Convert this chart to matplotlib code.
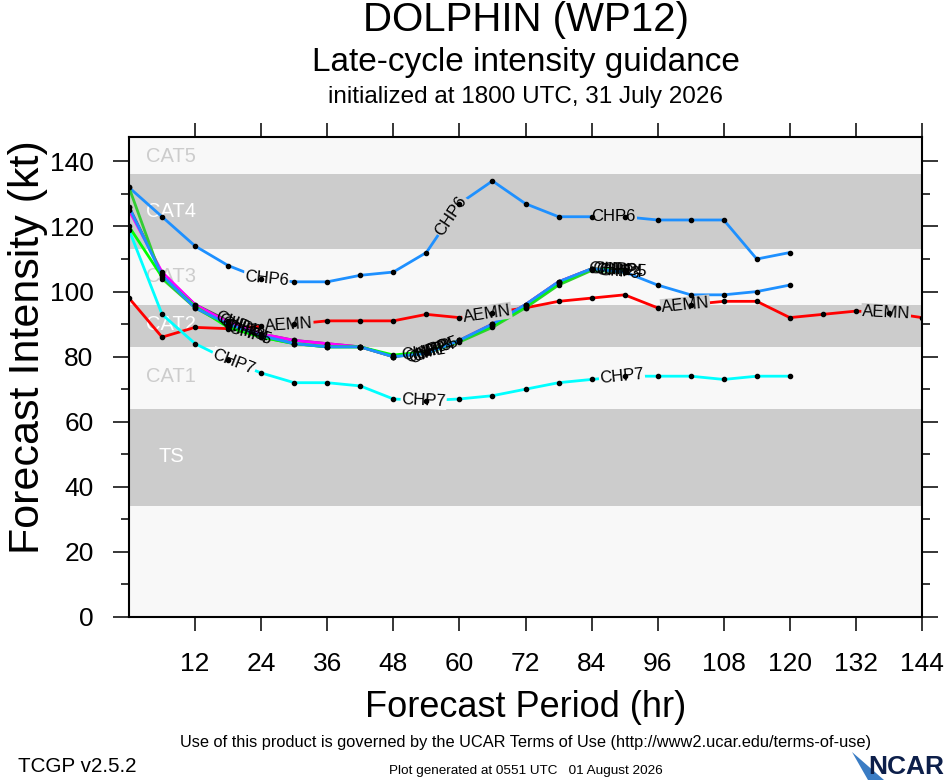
import numpy as np
import matplotlib
matplotlib.use("Agg")
import matplotlib.pyplot as plt
from matplotlib.patches import Polygon

plt.rcParams['font.family'] = ['Liberation Sans', 'DejaVu Sans']

# ---- data (kt), every 6 h from initial time ----
hours = list(range(0, 145, 6))

chp6 = [132, 123, 114, 108, 104, 103, 103, 105, 106, 112, 127, 134, 127,
        123, 123, 123, 122, 122, 122, 110, 112]
chp7 = [119, 93, 84, 79, 75, 72, 72, 71, 67, 66.5, 67, 68, 70, 72, 73, 74,
        74, 74, 73, 74, 74]
aemn = [98, 86, 89, 88.6, 89.3, 90, 91, 91, 91, 93, 92, 93.5, 95, 97, 98,
        99, 95, 96, 97, 97, 92, 93, 94, 93.5, 92]

# tightly clustered members
chp1 = [126, 105.5, 96, 91, 87, 85, 84, 83, 80, 81.5, 85, 90, 96, 103, 107, 106.5]
chp2 = [125, 106, 96, 90.5, 87, 85, 84, 83, 80, 81.5, 85, 90, 96, 103, 107, 106.5]
chp3 = [126, 105, 95, 90, 86.5, 84, 83, 83, 80, 81, 85, 90, 96, 103, 107, 106,
        102, 99, 99, 100, 102]
chp4 = [132, 104, 95, 89.5, 86, 84, 83, 83, 80, 81, 84.5, 89, 95, 102, 106.5, 106]
chp5 = [120, 104.5, 95.5, 89, 86, 84, 83, 83, 80.5, 81.5, 85, 89.5, 95.5, 102.5, 107, 106.5]

# intensity categories (kt)
cat_names = ['TS', 'CAT1', 'CAT2', 'CAT3', 'CAT4', 'CAT5']
cat_low = [34, 64, 83, 96, 113, 136]
cat_high = [64, 83, 96, 113, 136, 148]
cat_text_y = [49.2, 73.8, 89.8, 104.6, 124.6, 141.5]

GRAY = '#cccccc'
PALE = '#f8f8f8'

fig = plt.figure(figsize=(9.46, 7.80), dpi=100)
ax = fig.add_axes([129 / 946, 1 - 617 / 780, (922 - 129) / 946, (617 - 137) / 780])
ax.set_xlim(0, 144)
ax.set_ylim(0, 147.5)
ax.set_facecolor(PALE)

# category bands
for i, (name, lo, hi, ty) in enumerate(zip(cat_names, cat_low, cat_high, cat_text_y)):
    shaded = (i % 2 == 0)
    if shaded:
        ax.axhspan(lo, hi, color=GRAY, lw=0, zorder=0)
    ax.text(7.7, ty, name, color='white' if shaded else GRAY, fontsize=14.5,
            ha='center', va='center', zorder=1)


def band_color(y):
    for i, (lo, hi) in enumerate(zip(cat_low, cat_high)):
        if lo <= y < hi:
            return GRAY if i % 2 == 0 else PALE
    return PALE


def draw_track(vals, color, lw=2.0):
    h = hours[:len(vals)]
    ax.plot(h, vals, color=color, lw=lw, zorder=3, solid_joinstyle='round')
    ax.plot(h, vals, 'o', color='black', ms=3, zorder=6)


def put_label(vals, h, text, box=True):
    hh = hours[:len(vals)]
    y = np.interp(h, hh, vals)
    i = min(max(np.searchsorted(hh, h) - 1, 0), len(hh) - 2)
    p0 = ax.transData.transform((hh[i], vals[i]))
    p1 = ax.transData.transform((hh[i + 1], vals[i + 1]))
    ang = np.degrees(np.arctan2(p1[1] - p0[1], p1[0] - p0[0]))
    kw = {}
    if box:
        kw['bbox'] = dict(boxstyle='square,pad=0.05', fc=band_color(y), ec='none')
    ax.text(h, y, text, fontsize=12, rotation=ang, rotation_mode='anchor',
            ha='center', va='center', zorder=5, **kw)


draw_track(aemn, '#ff0000')
draw_track(chp7, '#00ffff')
draw_track(chp6, '#1e90ff')
draw_track(chp1, '#555555')
draw_track(chp2, '#ff00ff')
draw_track(chp4, '#33cc33')
draw_track(chp5, '#00ff00')
draw_track(chp3, '#1e90ff')

for h in (25, 58.5, 88):
    put_label(chp6, h, 'CHP6')
for h in (19, 53.5, 89.5):
    put_label(chp7, h, 'CHP7')
for h in (29, 65, 101, 137.5):
    put_label(aemn, h, 'AEMN')
members = [(chp1, 'CHP1'), (chp2, 'CHP2'), (chp3, 'CHP3'), (chp4, 'CHP4'), (chp5, 'CHP5')]
for k, (vals, name) in enumerate(members):
    for h in (19.5, 53.5, 87.5):
        put_label(vals, h + 0.6 * k, name, box=False)

# axes / ticks
ax.set_xticks(range(12, 145, 12))
ax.set_yticks(range(0, 141, 20))
ax.set_yticks(range(10, 141, 20), minor=True)
ax.tick_params(axis='x', which='major', direction='out', length=10, width=1.1,
               top=True, labeltop=False, labelsize=19, pad=15)
ax.tick_params(axis='y', which='major', direction='out', length=11.5, width=1.1,
               right=True, labelsize=19, pad=14)
ax.tick_params(axis='y', which='minor', direction='out', length=6, width=1.1, right=True)
for s in ax.spines.values():
    s.set_linewidth(1.5)
    s.set_zorder(7)

ax.set_xlabel('Forecast Period (hr)', fontsize=26, labelpad=10)
ax.set_ylabel('Forecast Intensity (kt)', fontsize=31, va='center')
ax.yaxis.set_label_coords(-0.127, 0.5625)

# titles
fig.text(0.5555, 1 - 20 / 780, 'DOLPHIN (WP12)', fontsize=29, ha='center', va='center')
fig.text(0.5555, 1 - 62 / 780, 'Late-cycle intensity guidance', fontsize=24, ha='center', va='center')
fig.text(0.5555, 1 - 97 / 780, 'initialized at 1800 UTC, 31 July 2026', fontsize=17.5,
         ha='center', va='center')

# footer
fig.text(0.5555, 1 - 742 / 780,
         'Use of this product is governed by the UCAR Terms of Use (http://www2.ucar.edu/terms-of-use)',
         fontsize=11.8, ha='center', va='center')
fig.text(18 / 946, 1 - 766 / 780, 'TCGP v2.5.2', fontsize=14.9, ha='left', va='center')
fig.text(0.5555, 1 - 771 / 780, 'Plot generated at 0551 UTC   01 August 2026', fontsize=9.7,
         ha='center', va='center')
fig.text(944 / 946, 1 - 767 / 780, 'NCAR', fontsize=19, fontweight='bold', color='#0d1f4a',
         ha='right', va='center')
fig.patches.append(Polygon([(852 / 946, 1 - 752 / 780), (884 / 946, 1 - 780 / 780),
                            (868 / 946, 1 - 780 / 780)],
                           closed=True, transform=fig.transFigure, fc='#3a7cc4', ec='none'))

fig.savefig('out.png', dpi=100)
